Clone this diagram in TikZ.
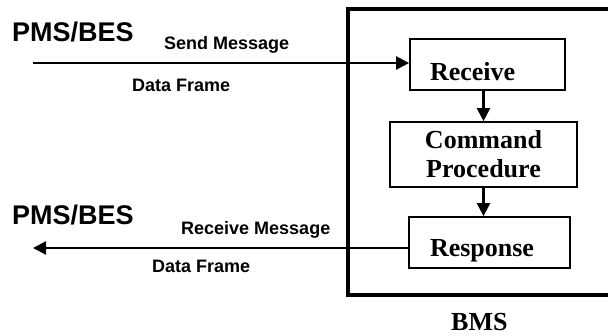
\documentclass[tikz,border=0pt]{standalone}
\usepackage{fontspec}
\setmainfont{Liberation Serif}
\newfontfamily\headfont{Liberation Sans}
\usetikzlibrary{arrows.meta,positioning}

\tikzset{
  blk/.style={draw,line width=1.7pt,inner sep=0pt,font=\bfseries\fontsize{26}{29}\selectfont},
  flow/.style={line width=2.2pt,-{Triangle[length=13pt,width=13pt]}},
  side/.style={anchor=base west,inner sep=0pt,font=\headfont\bfseries\fontsize{27}{30}\selectfont},
  tag/.style={anchor=base west,inner sep=0pt,font=\headfont\bfseries\fontsize{18}{20}\selectfont},
}

\begin{document}
\begin{tikzpicture}[x=1pt,y=-1pt]
  \useasboundingbox (0,0) rectangle (608,336);
  \clip (0,0) rectangle (608,336);
  % BMS frame, its right side runs off the page
  \node[draw,line width=3.4pt,minimum width=292pt,minimum height=286pt] (bms) at (494,152) {};
  \node[anchor=base west,inner sep=0pt,font=\bfseries\fontsize{26}{29}\selectfont] (bmsname) at (451,331) {BMS};

  % processing steps
  \node[blk,minimum width=155pt,minimum height=51pt,text width=115pt,align=left,text height=32pt,text depth=0pt] (recv) at (487.5,64.5) {Receive};
  \node[blk,minimum width=187pt,minimum height=65pt,align=center] (cmd) at (483.5,154.5) {Command\\Procedure};
  \node[blk,minimum width=161pt,minimum height=51pt,text width=119pt,align=left,text height=28pt,text depth=0pt] (resp) at (489.5,242.5) {Response};
  \draw[flow] (cmd.north |- recv.south) -- (cmd.north);
  \draw[flow] (cmd.south) -- (cmd.south |- resp.north);

  % outside side
  \node[side] (pmsin) at (12,41.7) {PMS/BES};
  \node[tag] (sendmsg) at (164,50) {Send Message};
  \node[tag] (framein) at (132,91.7) {Data Frame};
  \coordinate (in) at (33,63);
  \draw[flow] (in) -- (in -| recv.west);

  \node[side] (pmsout) at (12,225) {PMS/BES};
  \node[tag] (recvmsg) at (181,235) {Receive Message};
  \node[tag] (frameout) at (152,272.7) {Data Frame};
  \coordinate (out) at (33,248);
  \draw[flow] (out -| resp.west) -- (out);
\end{tikzpicture}
\end{document}
